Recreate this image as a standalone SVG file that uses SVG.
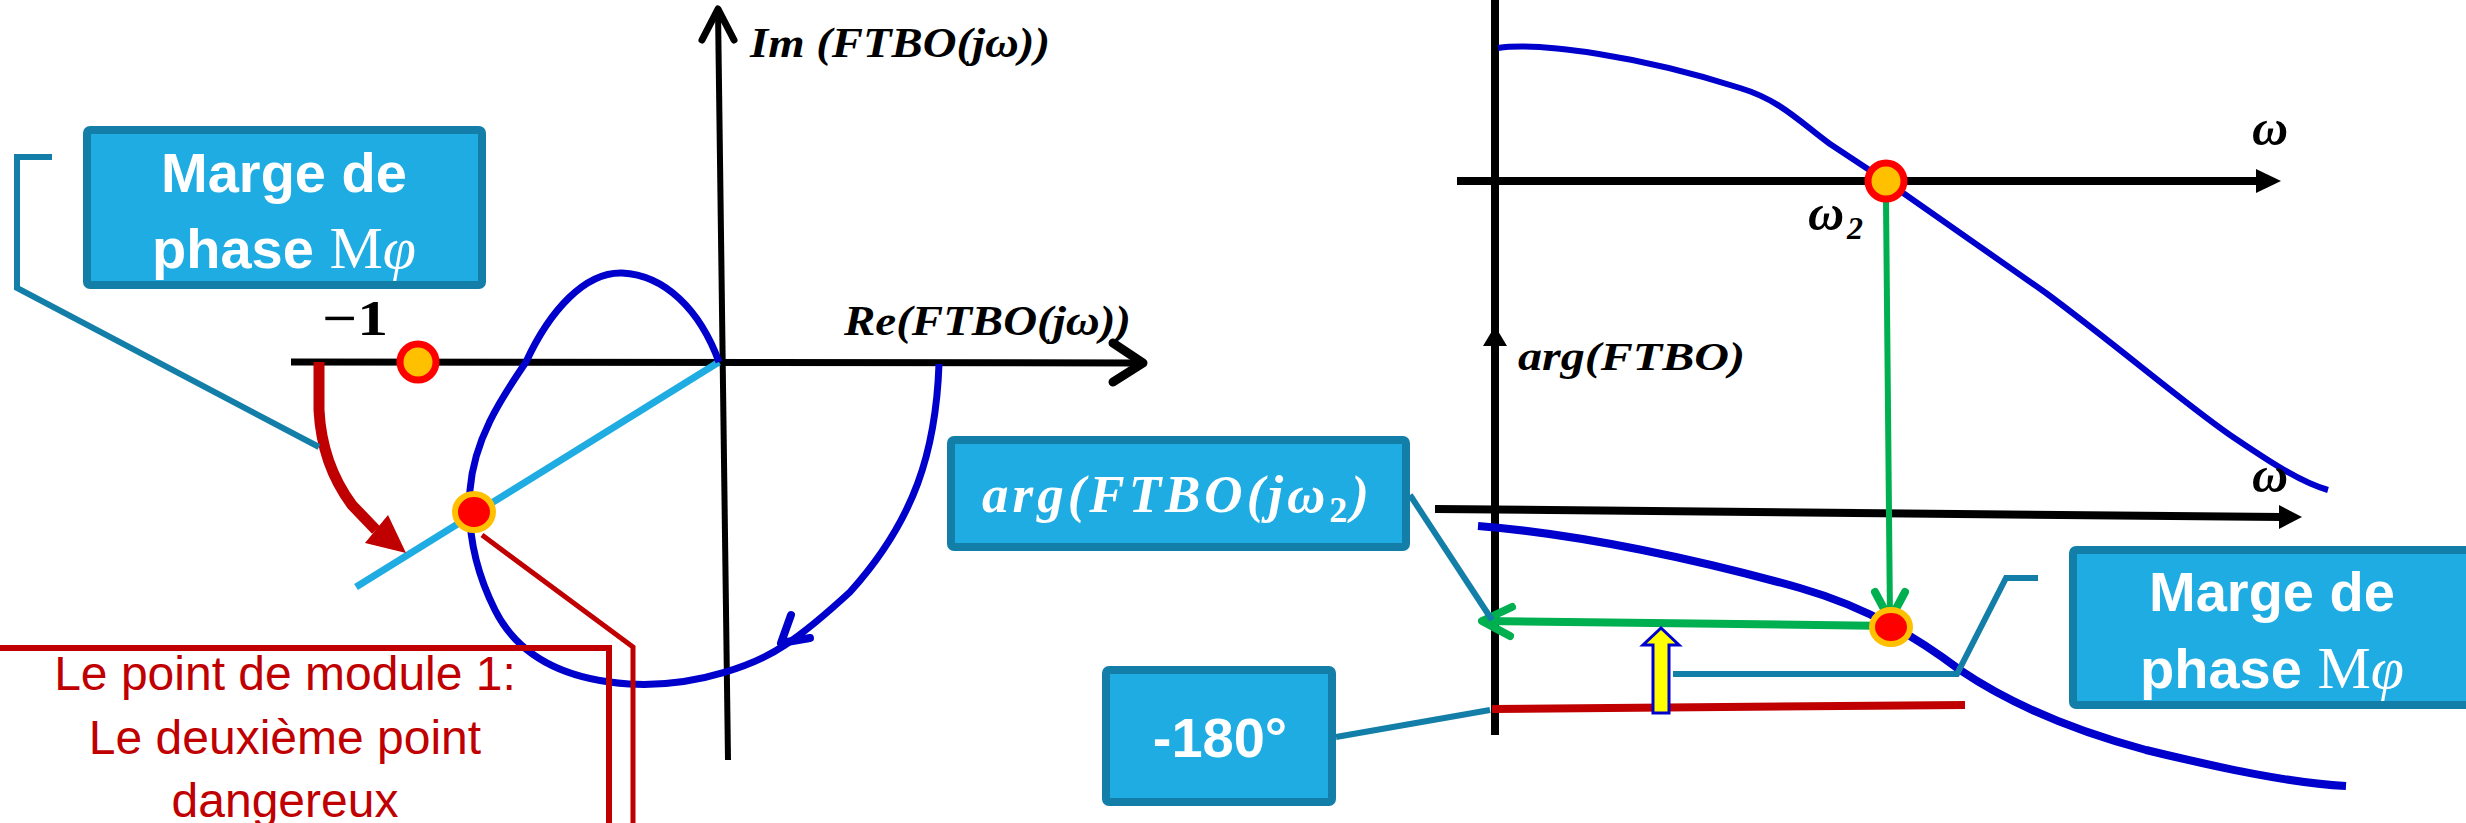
<svg xmlns="http://www.w3.org/2000/svg" width="2466" height="823" viewBox="0 0 2466 823">
<style>
.box{fill:#1FACE2;stroke:#137FA8;stroke-width:8;}
.boxtxt{font-family:"Liberation Sans",Arial,sans-serif;font-weight:bold;fill:#ffffff;font-size:56px;text-anchor:middle;}
.serif{font-family:"Liberation Serif","Times New Roman",serif;font-weight:normal;}
.math{font-family:"Liberation Serif","Times New Roman",serif;font-style:italic;font-weight:bold;fill:#000000;}
.call{fill:none;stroke:#137FA8;stroke-width:6;}
.axis{fill:none;stroke:#000000;stroke-width:8;}
.chev{fill:none;stroke-linecap:round;stroke-linejoin:round;}
.curve{fill:none;stroke:#0000CC;stroke-linejoin:round;}
.green{fill:none;stroke:#00B050;}
.redtxt{font-family:"Liberation Sans",Arial,sans-serif;font-size:48px;fill:#C00000;text-anchor:middle;}
</style>
<rect x="0" y="0" width="2466" height="823" fill="#ffffff"/>

<g id="connectors">
  <!-- Nyquist axes -->
  <line x1="291" y1="362" x2="1140" y2="363" stroke="#000" stroke-width="7"/>
  <polyline class="chev" points="1113,343 1143,363 1113,382" stroke="#000" stroke-width="9"/>
  <line x1="728" y1="760" x2="718" y2="10" stroke="#000" stroke-width="6"/>
  <polyline class="chev" points="702,40 718,9 734,40" stroke="#000" stroke-width="7"/>

  <!-- light blue phase line -->
  <line x1="719" y1="362" x2="356" y2="587" stroke="#1FACE2" stroke-width="7"/>

  <!-- Nyquist curve -->
  <path class="curve" stroke-width="7" d="M939,364 C936,450 915,520 850,592 C825,615 805,632 785,645 C760,662 700,688 629,684 C570,680 520,660 495,610 C475,570 467,530 470,490 C474,440 500,400 526,362 C550,310 585,272 622,273 C665,275 700,310 719,362"/>
  <polyline class="chev" points="791,615 781,643 810,638" stroke="#0000CC" stroke-width="8"/>

  <!-- dark red arrow from -1 -->
  <path d="M319,362 L319,410 C321,450 335,482 352,505 L376,530" fill="none" stroke="#C00000" stroke-width="11"/>
  <polygon points="406,553 388,515 365,543" fill="#C00000"/>

  <!-- left box callout -->
  <polyline class="call" points="52,157 17,157 17,288 319,447"/>

  <!-- red callout to text box -->
  <polyline points="482,535 633,647 633,830" fill="none" stroke="#C00000" stroke-width="5"/>

  <!-- Bode axes -->
  <line class="axis" x1="1495" y1="0" x2="1495" y2="735"/>
  <polygon points="1495,326 1483,346 1507,346" fill="#000"/>
  <line class="axis" x1="1457" y1="181" x2="2260" y2="181"/>
  <polygon points="2281,181 2256,169 2256,193" fill="#000"/>
  <line class="axis" x1="1435" y1="509" x2="2282" y2="517"/>
  <polygon points="2302,517 2279,505 2279,529" fill="#000"/>

  <!-- magnitude curve -->
  <path class="curve" stroke-width="6" d="M1498,48 C1540,42 1640,56 1740,88 C1780,100 1800,122 1830,144 L1886,181 L2046,293 C2120,348 2180,400 2230,435 C2270,462 2300,482 2328,490"/>
  <!-- phase curve -->
  <path class="curve" stroke-width="8" d="M1478,526 C1580,534 1700,560 1800,588 C1870,608 1920,640 1960,670 C2000,697 2060,727 2146,750 C2220,768 2290,783 2346,786"/>

  <!-- -180 line -->
  <line x1="1492" y1="709" x2="1965" y2="705" stroke="#C00000" stroke-width="8"/>

  <!-- green arrows -->
  <line class="green" x1="1886" y1="200" x2="1890" y2="620" stroke-width="6"/>
  <polyline class="chev" points="1875,592 1890,620 1905,592" stroke="#00B050" stroke-width="8"/>
  <line class="green" x1="1893" y1="626" x2="1484" y2="621" stroke-width="8"/>
  <polyline class="chev" points="1512,607 1482,621 1510,636" stroke="#00B050" stroke-width="8"/>

  <!-- yellow block arrow -->
  <polygon points="1653,713 1653,645 1643,645 1661,628 1679,645 1669,645 1669,713" fill="#FFFF00" stroke="#0000CC" stroke-width="3"/>

  <!-- callouts right -->
  <polyline class="call" points="1673,674 1957,674 2006,578 2038,578"/>
  <line class="call" x1="1410" y1="495" x2="1492" y2="620"/>
  <line class="call" x1="1336" y1="737" x2="1490" y2="710" stroke-width="7"/>
</g>

<g id="point-minus1">
  <circle cx="418" cy="362" r="18" fill="#FFC000" stroke="#FF0000" stroke-width="7"/>
  <text x="322" y="335" font-family="Liberation Serif, serif" font-weight="bold" font-size="50" textLength="66" lengthAdjust="spacingAndGlyphs">−1</text>
</g>

<g id="point-module1">
  <ellipse cx="474" cy="512" rx="19" ry="18" fill="#FF0000" stroke="#FFC000" stroke-width="6"/>
</g>

<g id="label-im">
  <text class="math" x="750" y="57" font-size="42" textLength="300" lengthAdjust="spacingAndGlyphs">Im (FTBO(jω))</text>
</g>
<g id="label-re">
  <text class="math" x="844" y="335" font-size="42" textLength="287" lengthAdjust="spacingAndGlyphs">Re(FTBO(jω))</text>
</g>

<g id="box-marge-left">
  <rect class="box" x="87" y="130" width="395" height="155" rx="3"/>
  <text class="boxtxt" x="284" y="192">Marge de</text>
  <text class="boxtxt" x="284" y="268">phase <tspan class="serif" font-size="60">M</tspan><tspan class="serif" font-style="italic" font-size="60">φ</tspan></text>
</g>

<g id="box-point-dangereux">
  <rect x="-10" y="648" width="619" height="178" fill="none" stroke="#C00000" stroke-width="6"/>
  <text class="redtxt" x="285" y="690">Le point de module 1:</text>
  <text class="redtxt" x="285" y="754">Le deuxième point</text>
  <text class="redtxt" x="285" y="817">dangereux</text>
</g>

<g id="point-omega2">
  <circle cx="1886" cy="181" r="18" fill="#FFC000" stroke="#FF0000" stroke-width="7"/>
  <text class="math" x="1808" y="230" font-size="50">ω</text>
  <text class="math" x="1847" y="239" font-size="32" font-style="normal">2</text>
</g>

<g id="label-omega-top">
  <text class="math" x="2252" y="145" font-size="50">ω</text>
</g>
<g id="label-omega-bottom">
  <text class="math" x="2252" y="492" font-size="50">ω</text>
</g>
<g id="label-arg">
  <text class="math" x="1518" y="370" font-size="40" textLength="227" lengthAdjust="spacingAndGlyphs">arg(FTBO)</text>
</g>

<g id="point-phase">
  <ellipse cx="1891" cy="627" rx="19" ry="17" fill="#FF0000" stroke="#FFC000" stroke-width="6"/>
</g>

<g id="box-arg">
  <rect class="box" x="951" y="440" width="455" height="107" rx="3"/>
  <text class="math" x="982" y="512" font-size="53" style="fill:#ffffff" letter-spacing="4">arg(FTBO(jω<tspan font-size="36" font-style="normal" dy="10">2</tspan><tspan dy="-10">)</tspan></text>
</g>

<g id="box-180">
  <rect class="box" x="1106" y="670" width="226" height="132" rx="3"/>
  <text class="boxtxt" x="1220" y="757">-180°</text>
</g>

<g id="box-marge-right">
  <rect class="box" x="2073" y="550" width="420" height="155" rx="3"/>
  <text class="boxtxt" x="2272" y="611">Marge de</text>
  <text class="boxtxt" x="2272" y="688">phase <tspan class="serif" font-size="60">M</tspan><tspan class="serif" font-style="italic" font-size="60">φ</tspan></text>
</g>
</svg>
